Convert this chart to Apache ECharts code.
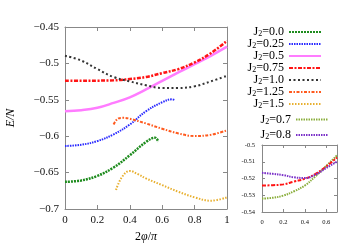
<!DOCTYPE html>
<html><head><meta charset="utf-8">
<script src="https://cdn.jsdelivr.net/npm/echarts@6/dist/echarts.min.js"></script>
<style>html,body{margin:0;padding:0;background:#fff}#c{width:354px;height:248px}</style>
</head><body><div id="c"></div>
<script>
// ---- data ----
const x00 = [0, 0.1, 0.2, 0.3, 0.4, 0.5, 0.556, 0.576];
const y00 = [-0.6627, -0.6608, -0.6545, -0.643, -0.6262, -0.608, -0.602, -0.6075];
const x025 = [0, 0.1, 0.2, 0.3, 0.4, 0.5, 0.6, 0.66, 0.68];
const y025 = [-0.6135, -0.6117, -0.6067, -0.5975, -0.5839, -0.5657, -0.5534, -0.5493, -0.5506];
const xFull = [0, 0.1, 0.2, 0.3, 0.4, 0.5, 0.6, 0.7, 0.8, 0.9, 1.0];
const y050 = [-0.5657, -0.5643, -0.561, -0.5543, -0.5466, -0.5358, -0.524, -0.5124, -0.501, -0.4896, -0.477];
const y075 = [-0.5238, -0.5238, -0.5237, -0.5233, -0.5215, -0.5187, -0.5133, -0.5078, -0.4987, -0.486, -0.469];
const y100 = [-0.4896, -0.496, -0.5078, -0.5187, -0.5247, -0.530, -0.5338, -0.5338, -0.5315, -0.5247, -0.517];
const x125 = [0.3, 0.33, 0.36, 0.4, 0.5, 0.6, 0.7, 0.8, 0.9, 1.0];
const y125 = [-0.5839, -0.5755, -0.5748, -0.576, -0.5825, -0.5898, -0.5962, -0.5998, -0.598, -0.592];
const x150 = [0.315, 0.35, 0.4, 0.45, 0.5, 0.6, 0.7, 0.8, 0.9, 1.0];
const y150 = [-0.674, -0.6567, -0.6477, -0.6522, -0.658, -0.6672, -0.6763, -0.684, -0.6886, -0.684];
// inset
const xIn = [0, 0.1, 0.2, 0.3, 0.4, 0.5, 0.6, 0.7];
const y070 = [-0.532, -0.5315, -0.5302, -0.5276, -0.5242, -0.5186, -0.5125, -0.5062];
const y075In = [-0.5242, -0.524, -0.5235, -0.5218, -0.5202, -0.5172, -0.5128, -0.5075];
const y080 = [-0.5166, -0.5172, -0.518, -0.5193, -0.5197, -0.5177, -0.5137, -0.5100];
const mainNames = ['0.0', '0.25', '0.5', '0.75', '1.0', '1.25', '1.5'];
const insetNames = ['0.7', '0.8'];
const mainXTicks = [0, 0.2, 0.4, 0.6, 0.8, 1];
const mainYTicks = [-0.7, -0.65, -0.6, -0.55, -0.5, -0.45];

const zip = (xs, ys) => xs.map((x, i) => [x, ys[i]]);
const SERIF = 'Liberation Serif';
const AX = '#888';

function mk(name, xs, ys, color, type, width, gi) {
  return {
    name: name, type: 'line', data: zip(xs, ys), xAxisIndex: gi, yAxisIndex: gi,
    symbol: 'none', smooth: 0.4, clip: true,
    lineStyle: { color: color, width: width, type: type, cap: 'butt' },
    itemStyle: { color: color }
  };
}
const nm = v => 'J2=' + v;
const rich = {
  a: { fontFamily: SERIF, fontSize: 12, color: '#000', lineHeight: 11.6 },
  s: { fontFamily: SERIF, fontSize: 8, color: '#000', lineHeight: 7.6, padding: [4, 0, 0, 0] }
};
const legFmt = n => '{a|J}{s|2}{a|=' + n.slice(3) + '}';

function baseAxes(gi, xmin, xmax, xint, ymin, ymax, yint, fs, labFmtX, labFmtY, margin) {
  const tickIn = { show: true, inside: true, length: gi === 0 ? 4 : 3, lineStyle: { color: AX } };
  const line = { show: true, onZero: false, lineStyle: { color: AX, width: 1 } };
  const lab = { fontFamily: SERIF, fontSize: fs, color: '#111', margin: margin };
  return {
    x: [
      { type: 'value', gridIndex: gi, min: xmin, max: xmax, interval: xint, position: 'bottom',
        axisLine: line, axisTick: tickIn, splitLine: { show: false },
        axisLabel: Object.assign({ formatter: labFmtX, showMaxLabel: gi === 0 }, lab) },
      { type: 'value', gridIndex: gi, min: xmin, max: xmax, interval: xint, position: 'top',
        axisLine: line, axisTick: tickIn, splitLine: { show: false }, axisLabel: { show: false } }
    ],
    y: [
      { type: 'value', gridIndex: gi, min: ymin, max: ymax, interval: yint, position: 'left',
        axisLine: line, axisTick: tickIn, splitLine: { show: false },
        axisLabel: Object.assign({ formatter: labFmtY }, lab) },
      { type: 'value', gridIndex: gi, min: ymin, max: ymax, interval: yint, position: 'right',
        axisLine: line, axisTick: tickIn, splitLine: { show: false }, axisLabel: { show: false } }
    ]
  };
}
const r2 = v => Math.round(v * 100) / 100;
const mainA = baseAxes(0, mainXTicks[0], mainXTicks[mainXTicks.length - 1], 0.2,
  mainYTicks[0], mainYTicks[mainYTicks.length - 1], 0.05, 11,
  v => String(r2(v)), v => String(r2(v)).replace('-', '\u2212'), 6);
const inA = baseAxes(1, 0, 0.7, 0.2, -0.54, -0.5, 0.01, 6.5,
  v => (v > 0.65 ? '' : String(r2(v))), v => String(r2(v)), 7);

mainA.x[0].name = '2{i|φ}/{i|π}';
mainA.x[0].nameLocation = 'middle';
mainA.x[0].nameGap = 22;
mainA.x[0].nameTextStyle = { fontFamily: SERIF, fontSize: 12, color: '#000',
  rich: { i: { fontFamily: SERIF, fontSize: 12, fontStyle: 'italic', color: '#000' } } };
mainA.y[0].name = 'E/N';
mainA.y[0].nameLocation = 'middle';
mainA.y[0].nameGap = 48;
mainA.y[0].nameTextStyle = { fontFamily: SERIF, fontSize: 12, fontStyle: 'italic', color: '#000' };

const xAxes = [mainA.x[0], mainA.x[1], inA.x[0], inA.x[1]];
const yAxes = [mainA.y[0], mainA.y[1], inA.y[0], inA.y[1]];

const series = [
  mk(nm(mainNames[0]), x00, y00, '#1e8c1e', [2, 1], 2.5, 0),
  mk(nm(mainNames[1]), x025, y025, '#2a2aff', [1.5, 1], 2, 0),
  mk(nm(mainNames[2]), xFull, y050, '#ff7cff', 'solid', 2.5, 0),
  mk(nm(mainNames[3]), xFull, y075, '#ff1414', [4, 1.5, 2, 1.5], 2.5, 0),
  mk(nm(mainNames[4]), xFull, y100, '#333333', [2, 2.5], 2, 0),
  mk(nm(mainNames[5]), x125, y125, '#ff5a1e', [3, 1.5, 1.5, 1.5], 2, 0),
  mk(nm(mainNames[6]), x150, y150, '#e8b030', [1.5, 1.5], 2, 0),
  mk(nm(insetNames[0]), xIn, y070, '#8aae3c', [1.5, 1], 2, 2),
  mk('inset0.75', xIn, y075In, '#ff1414', [4, 1.5, 2, 1.5], 2, 2),
  mk(nm(insetNames[1]), xIn, y080, '#7a30c8', [1.5, 1], 2, 2)
];
xAxes[2].gridIndex = 1; xAxes[3].gridIndex = 1; yAxes[2].gridIndex = 1; yAxes[3].gridIndex = 1;

const legCommon = {
  orient: 'vertical', itemWidth: 32, itemHeight: 8, align: 'right', formatter: legFmt, padding: 0,
  itemStyle: { opacity: 0, borderWidth: 0 },
  textStyle: { fontFamily: SERIF, fontSize: 12, color: '#000', rich: rich }
};

const chart = echarts.init(document.getElementById('c'), null, { renderer: 'canvas' });
chart.setOption({
  animation: false,
  backgroundColor: '#fff',
  grid: [
    { left: 65, top: 27, width: 162, height: 183 },
    { left: 262, top: 145, width: 75, height: 67 }
  ],
  xAxis: xAxes,
  yAxis: yAxes,
  legend: [
    Object.assign({ data: mainNames.map(nm), right: 32, top: 26, itemGap: 0 }, legCommon),
    Object.assign({ data: insetNames.map(nm), right: 25, top: 113.5, itemGap: 3.4 }, legCommon)
  ],
  series: series
});
</script></body></html>
